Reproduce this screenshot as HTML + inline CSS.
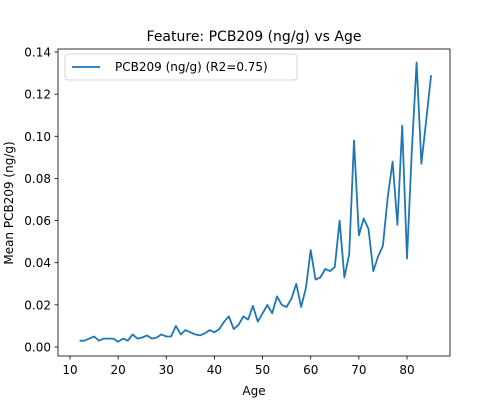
<!DOCTYPE html>
<html><head><meta charset="utf-8"><style>
body{margin:0;background:#fff;font-family:"Liberation Sans","DejaVu Sans",sans-serif}
</style></head><body>
<svg id="chart" width="500" height="400" xmlns="http://www.w3.org/2000/svg" font-family="DejaVu Sans, Liberation Sans, sans-serif">
<text x="254" y="41" text-anchor="middle" font-size="14">Feature: PCB209 (ng/g) vs Age</text>
<text x="254" y="395" text-anchor="middle" font-size="12">Age</text>
<text transform="translate(13,203) rotate(-90)" text-anchor="middle" font-size="12">Mean PCB209 (ng/g)</text>
<g id="xt"></g>
<g id="yt"></g>
<path id="line" fill="none" stroke="#1f77b4" stroke-width="1.8" stroke-linejoin="round"/>
<rect x="58" y="49" width="392" height="307" fill="none" stroke="#000" stroke-width="0.8"/>
<g>
<rect x="65" y="54" width="232" height="26" rx="3" fill="#fff" stroke="#ccc" stroke-width="0.8"/>
<line x1="72" y1="67" x2="100" y2="67" stroke="#1f77b4" stroke-width="1.8"/>
<text x="115" y="71" font-size="12">PCB209 (ng/g) (R2=0.75)</text>
</g>
</svg>
<script>
const ages=[12,13,14,15,16,17,18,19,20,21,22,23,24,25,26,27,28,29,30,31,32,33,34,35,36,37,38,39,40,41,42,43,44,45,46,47,48,49,50,51,52,53,54,55,56,57,58,59,60,61,62,63,64,65,66,67,68,69,70,71,72,73,74,75,76,77,78,79,80,81,82,83,84,85];
const values=[0.003,0.003,0.004,0.005,0.003,0.004,0.004,0.004,0.0025,0.004,0.003,0.006,0.004,0.0045,0.0055,0.004,0.0045,0.006,0.005,0.005,0.010,0.006,0.008,0.007,0.006,0.0055,0.0065,0.008,0.007,0.0085,0.012,0.0145,0.0085,0.0105,0.0145,0.013,0.0195,0.012,0.016,0.020,0.016,0.024,0.020,0.019,0.023,0.030,0.019,0.028,0.046,0.032,0.033,0.037,0.036,0.038,0.060,0.033,0.044,0.098,0.053,0.061,0.056,0.036,0.043,0.048,0.071,0.088,0.058,0.105,0.042,0.093,0.135,0.087,0.108,0.129];
const xTicks=[10,20,30,40,50,60,70,80];
const yTicks=[0,0.02,0.04,0.06,0.08,0.10,0.12,0.14];
const yLabels=["0.00","0.02","0.04","0.06","0.08","0.10","0.12","0.14"];
const X=v=>70+(v-10)*337/70;
const Y=v=>347-v*295/0.14;
const NS="http://www.w3.org/2000/svg";
const xt=document.getElementById('xt'),yt=document.getElementById('yt');
xTicks.forEach(t=>{
 const l=document.createElementNS(NS,'line');
 l.setAttribute('x1',X(t));l.setAttribute('x2',X(t));l.setAttribute('y1',356);l.setAttribute('y2',359.5);l.setAttribute('stroke','#000');l.setAttribute('stroke-width','0.8');
 
 
 xt.appendChild(l);
 const s=document.createElementNS(NS,'text');
 s.setAttribute('x',X(t));s.setAttribute('y',374);s.setAttribute('text-anchor','middle');s.setAttribute('font-size','12');s.textContent=t;
 
 
 xt.appendChild(s);
});
yTicks.forEach((t,i)=>{
 const l=document.createElementNS(NS,'line');
 l.setAttribute('x1',54.5);l.setAttribute('x2',58);l.setAttribute('y1',Y(t));l.setAttribute('y2',Y(t));l.setAttribute('stroke','#000');l.setAttribute('stroke-width','0.8');
 
 
 yt.appendChild(l);
 const s=document.createElementNS(NS,'text');
 s.setAttribute('x',51);s.setAttribute('y',Y(t)+4.5);s.setAttribute('text-anchor','end');s.setAttribute('font-size','12');s.textContent=yLabels[i];
 
 
 yt.appendChild(s);
});
document.getElementById('line').setAttribute('d',ages.map((a,i)=>(i?'L':'M')+X(a).toFixed(1)+','+Y(values[i]).toFixed(1)).join(''));
</script>
</body></html>
